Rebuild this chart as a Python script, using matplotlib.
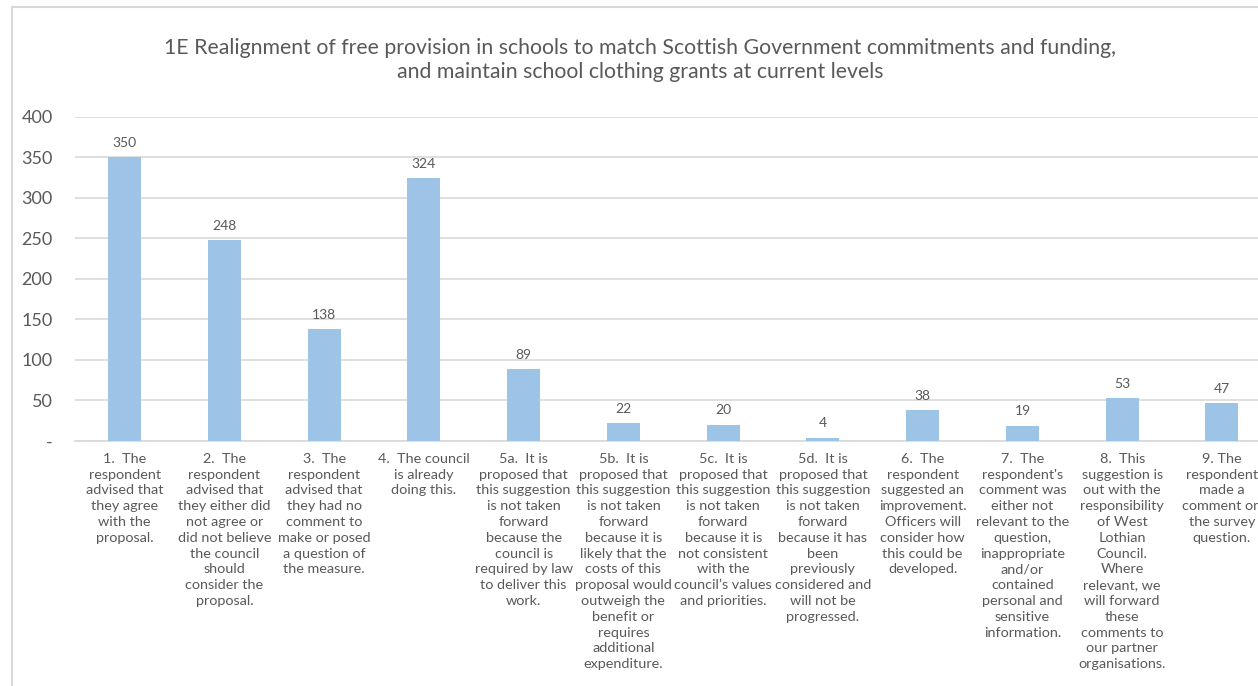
import matplotlib
matplotlib.use("Agg")
import matplotlib.pyplot as plt
from matplotlib.lines import Line2D

categories = [
    "1.  The\nrespondent\nadvised that\nthey agree\nwith the\nproposal.",
    "2.  The\nrespondent\nadvised that\nthey either did\nnot agree or\ndid not believe\nthe council\nshould\nconsider the\nproposal.",
    "3.  The\nrespondent\nadvised that\nthey had no\ncomment to\nmake or posed\na question of\nthe measure.",
    "4.  The council\nis already\ndoing this.",
    "5a.  It is\nproposed that\nthis suggestion\nis not taken\nforward\nbecause the\ncouncil is\nrequired by law\nto deliver this\nwork.",
    "5b.  It is\nproposed that\nthis suggestion\nis not taken\nforward\nbecause it is\nlikely that the\ncosts of this\nproposal would\noutweigh the\nbenefit or\nrequires\nadditional\nexpenditure.",
    "5c.  It is\nproposed that\nthis suggestion\nis not taken\nforward\nbecause it is\nnot consistent\nwith the\ncouncil\u2019s values\nand priorities.",
    "5d.  It is\nproposed that\nthis suggestion\nis not taken\nforward\nbecause it has\nbeen\npreviously\nconsidered and\nwill not be\nprogressed.",
    "6.  The\nrespondent\nsuggested an\nimprovement.\nOfficers will\nconsider how\nthis could be\ndeveloped.",
    "7.  The\nrespondent's\ncomment was\neither not\nrelevant to the\nquestion,\ninappropriate\nand/or\ncontained\npersonal and\nsensitive\ninformation.",
    "8.  This\nsuggestion is\nout with the\nresponsibility\nof West\nLothian\nCouncil.\nWhere\nrelevant, we\nwill forward\nthese\ncomments to\nour partner\norganisations.",
    "9. The\nrespondent\nmade a\ncomment on\nthe survey\nquestion.",
]
values = [350, 248, 138, 324, 89, 22, 20, 4, 38, 19, 53, 47]
y_ticks = [0, 50, 100, 150, 200, 250, 300, 350, 400]
y_tick_labels = ["-", "50", "100", "150", "200", "250", "300", "350", "400"]
title = ("1E Realignment of free provision in schools to match Scottish Government commitments and funding,\n"
         "and maintain school clothing grants at current levels")

TEXT = "#595959"
GRID = "#D9D9D9"
BAR = "#9DC3E6"
FONT = "Lato"

W, H = 1258, 686
fig = plt.figure(figsize=(W / 100, H / 100), dpi=100)

# plot area runs past the right edge of the figure
left_px, right_px, top_px, base_px = 74.8, 1271.8, 116.7, 441.0
ax = fig.add_axes([left_px / W, 1 - base_px / H, (right_px - left_px) / W, (base_px - top_px) / H])

x = list(range(len(values)))
ax.bar(x, values, width=0.33, color=BAR, zorder=3)
for xi, v in zip(x, values):
    ax.annotate(str(v), (xi, v), xytext=(0, 6), textcoords="offset points",
                ha="center", va="bottom", fontsize=10, color=TEXT, family=FONT)

ax.set_xlim(-0.5, len(values) - 0.5)
ax.set_ylim(0, 400)
ax.set_yticks(y_ticks)
ax.set_yticklabels(y_tick_labels, fontsize=13, color=TEXT, family=FONT)
ax.set_xticks(x)
ax.set_xticklabels(categories, fontsize=10.4, color=TEXT, family=FONT, linespacing=1.38)
ax.tick_params(axis="x", length=0, pad=8.5)
ax.tick_params(axis="y", length=0, pad=16)
ax.yaxis.grid(True, color=GRID, linewidth=1.2, zorder=0)
for s in ["top", "right", "left"]:
    ax.spines[s].set_visible(False)
ax.spines["bottom"].set_color(GRID)
ax.spines["bottom"].set_linewidth(1.2)

fig.text(640 / W, 1 - 60 / H, title, ha="center", va="center", fontsize=15.3,
         color=TEXT, family=FONT, linespacing=1.3)

# chart frame (left and top edges)
fig.add_artist(Line2D([12 / W, 12 / W], [0, 1 - 7 / H], transform=fig.transFigure, color=GRID, linewidth=1.5))
fig.add_artist(Line2D([12 / W, 1], [1 - 7 / H, 1 - 7 / H], transform=fig.transFigure, color=GRID, linewidth=1.5))

fig.savefig("out.png", dpi=100, facecolor="white")
